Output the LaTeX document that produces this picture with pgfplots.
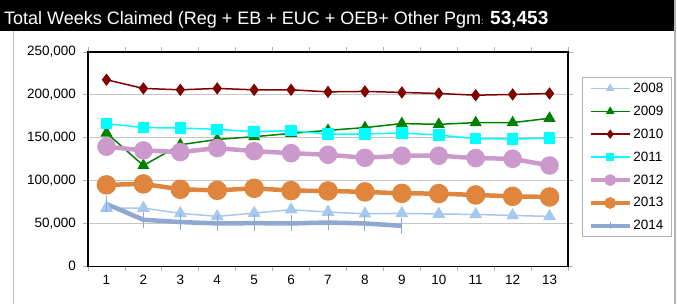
\documentclass[border=0pt]{standalone}
\usepackage{pgfplots}
\pgfplotsset{compat=1.18}
\usepackage{fontspec}
\setmainfont{Liberation Sans}
\definecolor{c08}{HTML}{A6C8EE}
\definecolor{c09}{HTML}{008000}
\definecolor{c10}{HTML}{800000}
\definecolor{c11}{HTML}{00FFFF}
\definecolor{c12}{HTML}{CC99CC}
\definecolor{c13}{HTML}{E0853D}
\definecolor{c14}{HTML}{8FA8D0}
\begin{document}
\begin{tikzpicture}[x=1pt,y=1pt]
\useasboundingbox (0,0) rectangle (677,304);
\fill[black] (0,273) rectangle (674,304);
\draw[gray!50, line width=1pt] (13,0) -- (13,273);
\draw[gray!60, line width=2pt] (675,0) -- (675,304);
\node[anchor=base west, text=white, font=\fontsize{18}{20}\selectfont, inner sep=0pt] at (4,279) {Total Weeks Claimed (Reg + EB + EUC + OEB+ Other Pgm{\fontsize{9}{10}\selectfont:} {\fontsize{19}{20}\selectfont\bfseries 53,453}};
\begin{axis}[
  at={(88pt,37.7pt)}, anchor=south west, scale only axis,
  width=480pt, height=214.3pt,
  xmin=0.5, xmax=13.5, ymin=0, ymax=250000,
  axis line style={black, line width=1.4pt},
  xtick={0.5,1.5,...,13.5},
  xticklabels={},
  x tick style={draw=gray!60, line width=0.8pt},
  extra x ticks={1,2,3,4,5,6,7,8,9,10,11,12,13},
  extra x tick labels={1,2,3,4,5,6,7,8,9,10,11,12,13},
  extra x tick style={major tick length=0pt, grid=none, tick style={draw=none}},
  ytick={0,50000,100000,150000,200000,250000},
  yticklabels={0,{50,000},{100,000},{150,000},{200,000},{250,000}},
  scaled y ticks=false,
  y tick style={draw=gray!60, line width=0.8pt},
  tick align=outside, major tick length=5pt,
  ymajorgrids, grid style={gray!45, line width=1pt},
  tick label style={font=\fontsize{13.5}{15}\selectfont},
  yticklabel style={inner sep=0pt, xshift=-7pt},
  xticklabel style={inner sep=0pt, yshift=-9pt},
  legend style={at={(1.0292,0.881)}, anchor=north west, draw=gray!60, line width=0.8pt,
    font=\fontsize{13.5}{15}\selectfont, row sep=9pt, inner xsep=6pt, inner ysep=3.5pt,
    nodes={inner sep=1.5pt}},
  legend cell align=left,
  legend image post style={mark size=3.5pt},
  legend image code/.code={\draw[mark repeat=2,mark phase=2] plot coordinates {(0pt,0pt)(19.5pt,0pt)(39pt,0pt)};},
]
\addplot[c08, line width=1.5pt, mark=triangle*, mark size=6pt, mark options={solid}] coordinates {
(1,68000)(2,68000)(3,61700)(4,58200)(5,62100)(6,66000)(7,63300)(8,61300)(9,61700)(10,61000)(11,60500)(12,59300)(13,58200)};
\addlegendentry{2008}
\addplot[c09, line width=1.5pt, mark=triangle*, mark size=5.5pt] coordinates {
(1,155500)(2,117600)(3,141800)(4,148000)(5,151200)(6,155000)(7,158600)(8,161800)(9,166500)(10,165600)(11,167600)(12,167600)(13,172700)};
\addlegendentry{2009}
\addplot[c10, line width=1.5pt, mark=diamond*, mark size=5pt] coordinates {
(1,217600)(2,207500)(3,205900)(4,207500)(5,205900)(6,205900)(7,203500)(8,204000)(9,202800)(10,201600)(11,199600)(12,200500)(13,201600)};
\addlegendentry{2010}
\addplot[c11, line width=1.5pt, mark=square*, mark size=5pt] coordinates {
(1,166500)(2,161800)(3,161300)(4,159800)(5,157100)(6,158200)(7,154300)(8,154300)(9,155500)(10,153100)(11,148900)(12,148400)(13,149600)};
\addlegendentry{2011}
\addplot[c12, line width=4.5pt, mark=*, mark size=7pt] coordinates {
(1,139500)(2,135200)(3,133200)(4,137900)(5,134300)(6,132000)(7,130100)(8,126600)(9,129000)(10,129000)(11,126200)(12,125400)(13,117600)};
\addlegendentry{2012}
\addplot[c13, line width=4.5pt, mark=*, mark size=7.5pt] coordinates {
(1,95000)(2,96100)(3,89800)(4,88600)(5,91000)(6,88300)(7,87900)(8,86800)(9,85100)(10,84800)(11,83200)(12,81600)(13,80900)};
\addlegendentry{2013}
\addplot[c14, line width=4.5pt, mark=|, mark size=8pt, mark options={line width=1pt}] coordinates {
(1,72700)(2,54300)(3,51600)(4,50000)(5,50300)(6,50000)(7,51100)(8,50000)(9,47200)};
\addlegendentry{2014}
\end{axis}
\end{tikzpicture}
\end{document}
